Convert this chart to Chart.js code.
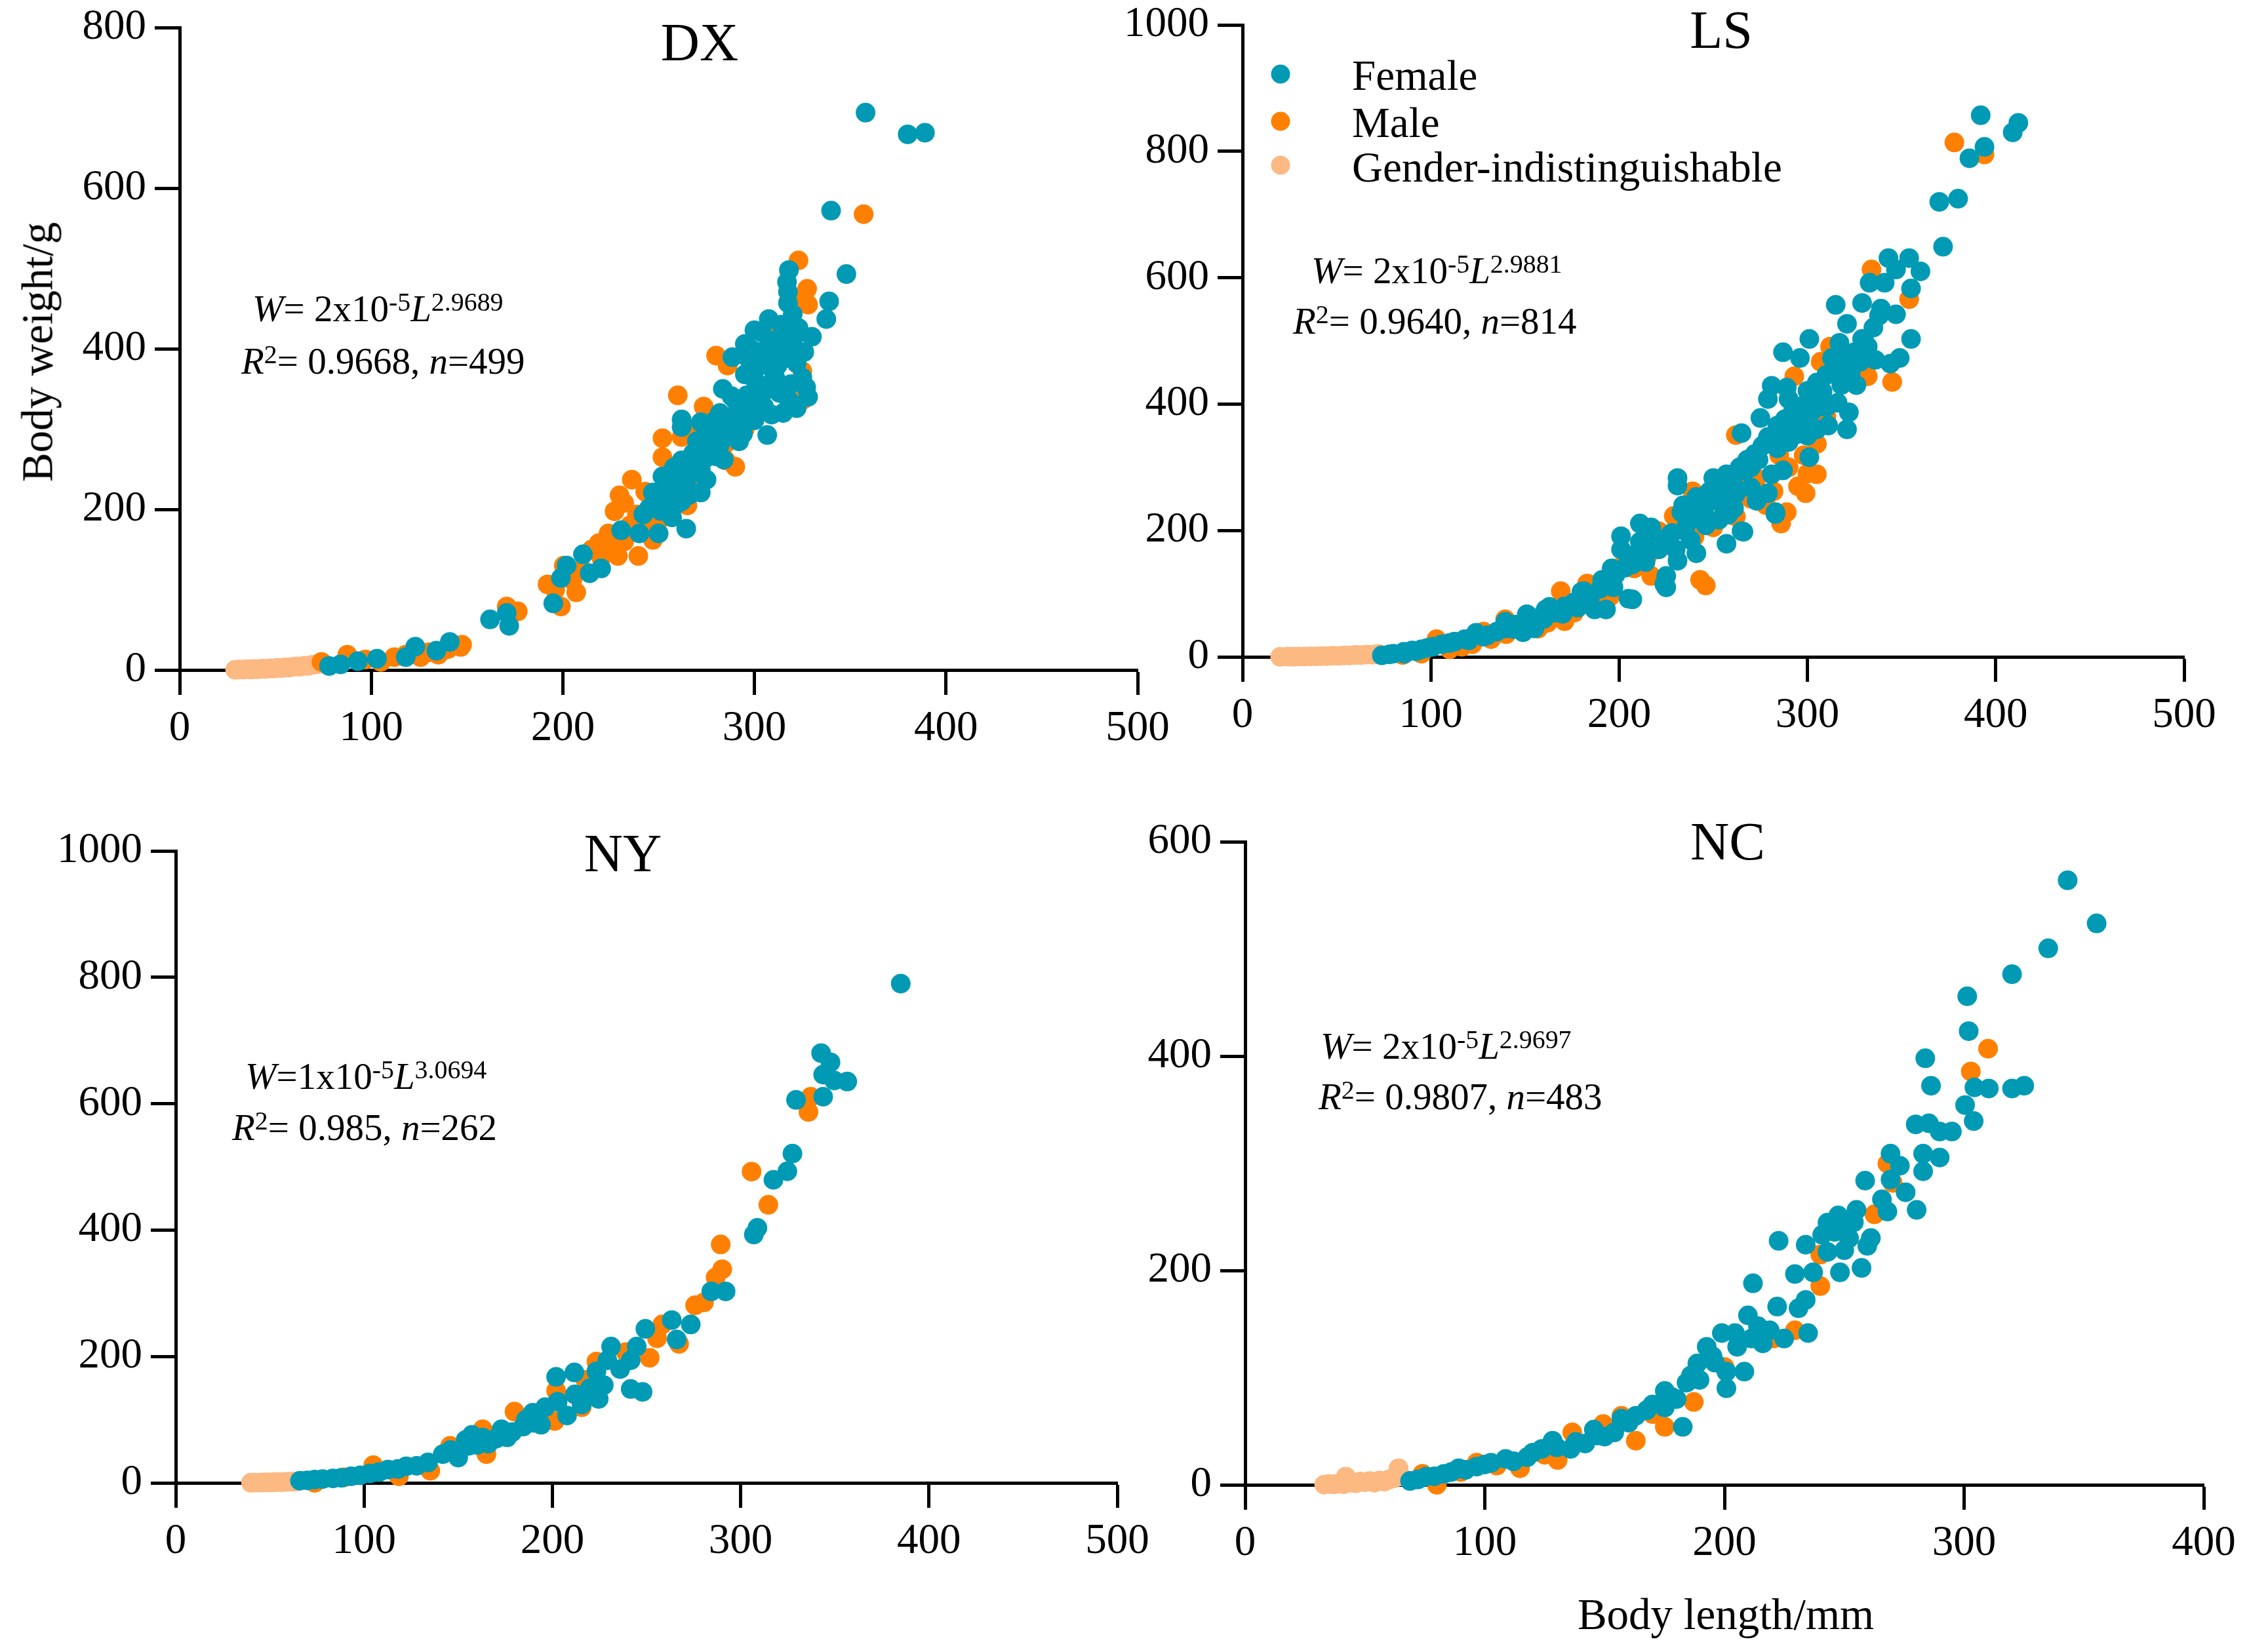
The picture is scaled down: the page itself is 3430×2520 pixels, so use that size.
<!DOCTYPE html>
<html>
<head>
<meta charset="utf-8">
<title>Body length - body weight</title>
<script src="https://cdn.jsdelivr.net/npm/chart.js@4.4.1/dist/chart.umd.min.js"></script>
<style>
  html, body { margin: 0; padding: 0; background: #fff; }
  body { width: 3430px; height: 2520px; position: relative; overflow: hidden; font-family: 'Liberation Serif', 'Times New Roman', serif; color: #000; }
  canvas { position: absolute; }
  .txt { position: absolute; line-height: 1; white-space: nowrap; font-family: 'Liberation Serif', 'Times New Roman', serif; }
  .txt sup { font-size: 0.7em; vertical-align: baseline; position: relative; top: -0.42em; }
  .dot { position: absolute; width: 29px; height: 29px; border-radius: 50%; transform: translate(-50%, -50%); }
</style>
</head>
<body>
<script>
// ---- data: [body length mm, body weight g] ----
const dxFemale = [[358,694],[380,667],[389,669],[340,572],[348,493],[318,498],[317,483],[317.5,471],[317.5,457],[320,443],[339,459],[337.5,437],[330,415],[307.5,437],[300,423],[295,406],[320,403],[315,411],[288.5,389.5],[311.7,391.5],[325,364],[328,340],[316,352],[283.5,350],[295,368],[303,352],[305,328],[315,320],[306.7,292.6],[282,320],[290,336],[287,304.5],[272,308.5],[262,312],[262,302.5],[292,284.7],[282,281],[270,285],[262,261],[272,249],[252,241],[275,237],[265,225],[247,221],[253.6,209.5],[245,201.6],[262,210],[272,221],[242,193.7],[230.4,174],[240,170],[250,170],[264.4,176],[210.5,144],[202,130],[214,120.5],[220,126.5],[199,114.5],[195,83],[162,63],[170.7,71],[172,55],[141,35],[134,24],[123,29],[118,16],[103,14],[93,11],[84,7],[78,5],[298,400],[305,380],[300,362],[310,372],[296,342],[291,322],[300,311],[285,300],[278,290],[268,270],[258,252],[255,226],[258,232],[266,242],[280,266],[292,330],[313,345],[322,382],[326,396],[308,405],[296,390],[322,326],[318,336],[256,215],[259,206],[261,222],[263,232],[268,246],[270,257],[274,263],[277,271],[279,281],[284,289],[288,296],[290,302],[293,311],[297,319],[300,326],[302,337],[305,347],[308,356],[311,363],[312,379],[314,386],[316,396],[319,406],[321,416],[323,426],[302,396],[298,376],[288,341],[280,312],[275,296],[310,410],[304,420],[314,430],[251,198],[257,190],[248,208],[266,218],[284,262],[294,294],[309,318],[319,356],[327,352],[300,378]];
const dxMale = [[357,567.6],[323,510],[327.5,474.6],[328,455],[318,423],[280,391.5],[286,379],[325,336],[260,342],[273.5,328],[252,288.6],[290,253],[285,261],[252,265],[236,237],[229.6,217.5],[227,197.6],[238.7,193.7],[223.8,170],[218.8,158],[228.7,142],[239.4,142],[247,162],[200.5,130],[192,106.6],[207,96.7],[199,79],[170.7,79],[176.5,73],[147.4,31.4],[146.7,28.7],[135,19],[125.7,16],[112,16],[97,13],[87.5,19],[74,10],[262,290],[270,300],[300,335],[295,300],[278,270],[245,200],[235,180],[215,150],[210,125],[265,205],[325,372],[310,420],[326,463],[232,160],[226,150],[242,176],[250,186],[220,140],[205,112],[196,100],[268,232],[285,282],[232,208],[243,222],[256,250],[118,19],[105,10],[130,22],[140,26]];
const dxUnknown = [[29,0.2],[31,0.6],[33,0.4],[35,1.0],[37,0.6],[39,1.2],[41,0.9],[43,1.6],[45,1.3],[47,2.0],[49,1.8],[51,2.6],[53,2.3],[55,3.2],[57,3.0],[59,3.9],[61,4.4],[63,4.1],[65,5.3],[67,5.0],[69,6.4],[71,6.9],[73,7.6],[75,8.3]];

const lsFemale = [[392,857],[412,845],[409,830],[394,807],[386,789],[370,720],[380,725],[372,649],[343,631],[354,631],[360,610],[355,583],[333,592],[341,592],[347,613],[315,557],[329,560],[347,542],[339,551],[355,503],[349,473],[344,464],[329,503],[321,527],[332,491],[328,467],[317,497],[313,473],[323,450],[317,444],[301,503],[287,482],[296,473],[281,429],[279,408],[289,426],[290,408],[301,408],[303,390],[316,402],[322,387],[321,360],[311,366],[305,360],[275,378],[265,354],[279,348],[285,360],[293,360],[301,316],[287,295],[281,289],[267,295],[261,271],[250,283],[257,289],[250,253],[241,253],[231,271],[231,283],[245,229],[253,217],[265,199],[273,247],[279,259],[283,229],[261,235],[233,229],[235,199],[227,193],[211,211],[217,205],[201,191],[201,170],[211,182],[221,170],[231,152],[241,164],[257,179],[225,128],[225,110],[207,146],[205,92],[197,110],[191,122],[181,104],[187,75],[171,80],[161,75],[153,63],[145,51],[149,39],[155,45],[140,45],[135,40],[128,32],[124,38],[118,28],[112.6,24],[106,20],[101,16],[95,12],[90,10],[85.7,8],[80,5],[74,2.4],[283,226],[266,198],[224,115],[207,91],[193,75],[180,103],[163,79],[151,67.5],[139.5,55.6],[160,60],[166,70],[170,68],[176,86],[178,78],[185,98],[190,108],[195,118],[198,130],[203,141],[208,152],[213,160],[218,176],[222,186],[228,196],[236,211],[240,222],[244,241],[248,246],[252,262],[256,268],[260,282],[264,300],[268,312],[272,321],[276,334],[280,347],[284,366],[288,376],[292,386],[296,396],[300,421],[305,434],[310,446],[315,462],[320,471],[325,482],[330,502],[335,521],[338,540],[246,208],[238,185],[230,170],[258,225],[270,268],[290,340],[300,350],[310,395],[326,430],[336,470],[130,34],[120,26],[110,22],[98,14],[92,9],[86,5],[78,4],[144,44],[150,55],[156,58],[234,240],[238,232],[248,262],[254,244],[262,258],[270,300],[274,312],[284,330],[294,352],[298,372],[308,420],[318,430],[214,150],[206,160],[196,140]];
const lsMale = [[378,814],[394,795],[334,613],[354,566],[345,435],[332,444],[307,467],[293,444],[312,491],[301,414],[305,337],[298,319],[305,289],[299,259],[286,211],[289,229],[262,351],[285,319],[273,283],[269,289],[239,262],[243,122],[246,113],[221,199],[229,223],[217,128],[199,140],[169,104],[183,116],[171,56.5],[189,80.4],[157,44.7],[103,28],[116.5,16],[128,40],[139.5,59.5],[184,115],[310,380],[290,300],[270,250],[255,240],[240,190],[215,160],[150,50],[110,12],[95,5],[85,3],[295,270],[300,290],[278,240],[282,262],[262,222],[250,205],[226,180],[208,140],[195,95],[176,70],[162,54],[140,36],[132,28],[122,20]];
const lsUnknown = [[20,0.1],[24,0.4],[27,0.2],[30,0.6],[33,0.5],[36,0.9],[39,0.8],[42,1.2],[45,1.1],[48,1.7],[51,1.6],[54,2.3],[57,2.1],[60,3.0],[63,2.8],[66,3.7],[69,3.5],[72,4.6]];

const nyFemale = [[385,790],[342.7,680],[347.7,665.5],[343.8,646],[349.7,636.7],[356.6,635],[343.8,611],[329.4,606],[327.5,521],[324.8,493],[317.4,479.5],[308.9,403.5],[307,393],[292,303],[284.4,303],[273.5,250.7],[263.4,257.6],[266,227],[249.4,243.7],[244.8,215.7],[247.9,144],[241.6,148.5],[241.6,194],[231.2,215.7],[229.2,194],[223.4,176.4],[227.3,154.6],[224.6,132.8],[211.7,174.7],[202,167.7],[207.8,106.6],[202.8,128.4],[215.6,124],[196.2,119.7],[189.6,111],[184.5,89],[178.7,80.3],[173,84.7],[163,71.6],[157.3,76],[155.4,58.5],[149.6,49.8],[141.8,45.4],[134,32.3],[122.4,26.2],[112.7,21],[103,14.8],[93.2,10.5],[83.5,7],[73.8,5.2],[66,3.5],[190,95],[170,70],[160,60],[150,40],[128,27],[118,22],[108,17],[98,12],[88,8],[78,6],[70,4],[166,62],[176,72],[186,100],[194,92],[212,140],[220,150],[236,180],[154,68],[146,52]];
const nyMale = [[337.2,611],[336,587],[305.8,492.6],[314.7,440],[289.4,377.3],[290.2,338],[286.7,325],[280.5,285.6],[275.8,281],[267.3,220],[258.4,250.7],[255.6,228.8],[251.7,198],[239,207],[223.4,192],[217.6,163],[215.6,119.7],[201.2,97.8],[202,145.8],[179.9,112.7],[163,84.7],[165,45.4],[145.7,58.5],[135.2,19.2],[118.5,10.5],[104.9,28],[89.4,8.7],[73.8,0]];
const nyUnknown = [[40,0.2],[42,0.5],[44,0.3],[46,0.6],[48,0.8],[50,0.7],[52,1.0],[54,1.2],[56,1.1],[58,1.5],[60,1.7],[62,1.9],[64,2.2]];

const ncFemale = [[343.2,564],[355.3,523.8],[335.1,500.6],[320,476.4],[301.3,455.8],[301.9,423.3],[283.8,398],[286.2,372.4],[304.3,370.8],[310.3,369.8],[320,369.8],[325.1,372.4],[300.4,354.3],[304,339.4],[279.8,336.3],[285.3,337.3],[289.8,329.6],[294.9,329.6],[282.9,309],[289.8,305.4],[282.9,292.5],[269.3,309],[273.2,297.7],[269.3,284.8],[275.6,273],[280.2,256.5],[258.7,283.8],[265.7,266.3],[268,255],[255.1,256.5],[247.5,251.3],[243,244.6],[240.8,233.3],[261.1,230.2],[259.6,223],[250,218.9],[243,217.3],[233.9,224],[222.6,227.6],[257.2,202.4],[248.2,198.3],[237,198.3],[229.4,196.7],[211.9,188],[233.9,172.5],[230.9,164.8],[222,166.3],[209.8,158.1],[218.9,144.2],[224.9,136.5],[234.9,141.6],[208.3,105.6],[200.8,90.1],[200.8,105.6],[192.6,128.8],[198.9,141.6],[204.4,141.6],[205.3,128.8],[211.3,136.5],[215.8,144.2],[188.7,113.3],[189.6,97.9],[184.2,95.3],[175.1,87.6],[182.6,54.1],[175.1,72.1],[167.5,69.5],[163,64.4],[157,61.8],[154,48.9],[145.5,51.5],[141.9,38.6],[135.8,33.5],[128.3,41.2],[123.8,33.5],[117.7,25.8],[108.7,24.2],[102.6,20.6],[96.6,17],[89.1,15.5],[83,10.3],[75.5,7.7],[68.8,3.6],[250,240],[252,230],[195,120],[180,80],[170,75],[150,45],[138,40],[130,35],[112,22],[92,14],[79,8],[72,5],[254,245],[246,236],[214,148],[216,132],[196,114],[186,102],[178,82],[160,58],[147,46],[120,30],[100,19],[86,12]];
const ncMale = [[310,406.9],[302.8,385.7],[268,299.7],[270.2,281.7],[262.6,252.4],[240,185.4],[240,214.8],[229.4,144.2],[220.4,136.5],[187.2,77.3],[175.1,54.1],[163,41.2],[157,64.4],[149.4,56.7],[136.5,48.9],[130.4,23.2],[114.7,15.5],[96.6,20.6],[80,0],[74,10.3],[125,28],[105,18],[90,12],[170,66],[200,110]];
const ncUnknown = [[33,0.2],[35,0.8],[37,0.4],[39,1.2],[41,0.6],[42,7.7],[44,2.0],[46,1.5],[48,3.0],[50,2.5],[52,3.5],[54,2.0],[56,4.0],[58,3.0],[60,5.0],[62,6.0],[64,15.5],[65,8.0]];

const seriesLabels = ['Female', 'Male', 'Gender-indistinguishable'];
const xTicks = { dx: 500, ls: 500, ny: 500, nc: 400 };
const yTicks = { dx: 800, ls: 1000, ny: 1000, nc: 600 };

// ---- style ----
const TEAL = '#009AB5';
const ORANGE = '#FF8000';
const PEACH = '#FDB982';
const FONT = "'Liberation Serif', 'Times New Roman', serif";
const R = 15;

// canvas margins around each plot area (plot areas measured in page px)
const YW = 260, PT = 60, PR = 90, XH = 150;

const panels = [
    { key: 'dx', area: { l: 274, t: 42, r: 1735, b: 1022 }, sets: [dxFemale, dxMale, dxUnknown] },
    { key: 'ls', area: { l: 1895, t: 38, r: 3331, b: 1002 }, sets: [lsFemale, lsMale, lsUnknown] },
    { key: 'ny', area: { l: 268, t: 1298, r: 1704, b: 2262 }, sets: [nyFemale, nyMale, nyUnknown] },
    { key: 'nc', area: { l: 1899, t: 1284, r: 3361, b: 2265 }, sets: [ncFemale, ncMale, ncUnknown] }
];

Chart.defaults.font.family = FONT;
Chart.defaults.color = '#000';

const toPts = arr => arr.map(([x, y]) => ({ x, y }));
const colors = [TEAL, ORANGE, PEACH];
const tickFont = { family: FONT, size: 65 };

panels.forEach(p => {
    const a = p.area;
    const cv = document.createElement('canvas');
    cv.width = YW + (a.r - a.l) + PR;
    cv.height = PT + (a.b - a.t) + XH;
    cv.style.left = (a.l - YW) + 'px';
    cv.style.top = (a.t - PT) + 'px';
    document.body.appendChild(cv);

    const axisBase = {
        type: 'linear',
        min: 0,
        grid: { drawOnChartArea: false, drawTicks: true, tickLength: 38, tickWidth: 5, tickColor: '#000' },
        border: { display: true, color: '#000', width: 5 }
    };

    new Chart(cv, {
        type: 'scatter',
        data: {
            datasets: p.sets.map((s, i) => ({
                label: seriesLabels[i],
                data: toPts(s),
                backgroundColor: colors[i],
                borderWidth: 0,
                pointRadius: R,
                clip: false
            }))
        },
        options: {
            responsive: false,
            animation: false,
            devicePixelRatio: 1,
            events: [],
            layout: { padding: { top: PT, right: PR, left: 0, bottom: 0 } },
            plugins: { legend: { display: false }, tooltip: { enabled: false } },
            scales: {
                x: {
                    ...axisBase,
                    max: xTicks[p.key],
                    ticks: { stepSize: 100, maxRotation: 0, padding: 13, font: tickFont, color: '#000', callback: v => String(v) },
                    afterFit: s => { s.height = XH; s.paddingLeft = 0; s.paddingRight = 0; }
                },
                y: {
                    ...axisBase,
                    max: yTicks[p.key],
                    ticks: { stepSize: 200, padding: 13, font: tickFont, color: '#000', callback: v => String(v) },
                    afterFit: s => { s.width = YW; s.paddingTop = 0; s.paddingBottom = 0; }
                }
            }
        }
    });
});

// ---- text placed by baseline (line-height 1 -> baseline ~0.8375em below top) ----
function addText(html, x, baseline, size, align, extra) {
    const d = document.createElement('div');
    d.className = 'txt';
    d.innerHTML = html;
    d.style.fontSize = size + 'px';
    d.style.left = x + 'px';
    d.style.top = (baseline - 0.8375 * size) + 'px';
    if (align === 'center') d.style.transform = 'translateX(-50%)';
    if (extra) Object.assign(d.style, extra);
    document.body.appendChild(d);
    return d;
}

// panel titles
addText('DX', 1067, 93, 82, 'center');
addText('LS', 2625, 74, 82, 'center');
addText('NY', 950, 1330, 82, 'center');
addText('NC', 2635, 1312, 82, 'center');

// fitted equations
const NOTE = 57;
addText('<i>W</i>= 2x10<sup>-5</sup><i>L</i><sup>2.9689</sup>', 385, 490, NOTE);
addText('<i>R</i><sup>2</sup>= 0.9668, <i>n</i>=499', 368, 570, NOTE);
addText('<i>W</i>= 2x10<sup>-5</sup><i>L</i><sup>2.9881</sup>', 2000, 432, NOTE);
addText('<i>R</i><sup>2</sup>= 0.9640, <i>n</i>=814', 1972, 509, NOTE);
addText('<i>W</i>=1x10<sup>-5</sup><i>L</i><sup>3.0694</sup>', 374, 1661, NOTE);
addText('<i>R</i><sup>2</sup>= 0.985, <i>n</i>=262', 354, 1739, NOTE);
addText('<i>W</i>= 2x10<sup>-5</sup><i>L</i><sup>2.9697</sup>', 2014, 1615, NOTE);
addText('<i>R</i><sup>2</sup>= 0.9807, <i>n</i>=483', 2011, 1692, NOTE);

// legend (inside LS panel)
const legendRows = [113, 185, 252];
const legendBase = [137, 209, 277];
seriesLabels.forEach((lab, i) => {
    const dot = document.createElement('div');
    dot.className = 'dot';
    dot.style.left = '1953px';
    dot.style.top = legendRows[i] + 'px';
    dot.style.background = colors[i];
    document.body.appendChild(dot);
    addText(lab, 2062, legendBase[i], 65);
});

// axis titles
const yTitle = document.createElement('div');
yTitle.className = 'txt';
yTitle.textContent = 'Body weight/g';
Object.assign(yTitle.style, { fontSize: '67px', left: '57px', top: '537px', transform: 'translate(-50%, -50%) rotate(-90deg)' });
document.body.appendChild(yTitle);

addText('Body length/mm', 2632, 2485, 67, 'center');
</script>
</body>
</html>
